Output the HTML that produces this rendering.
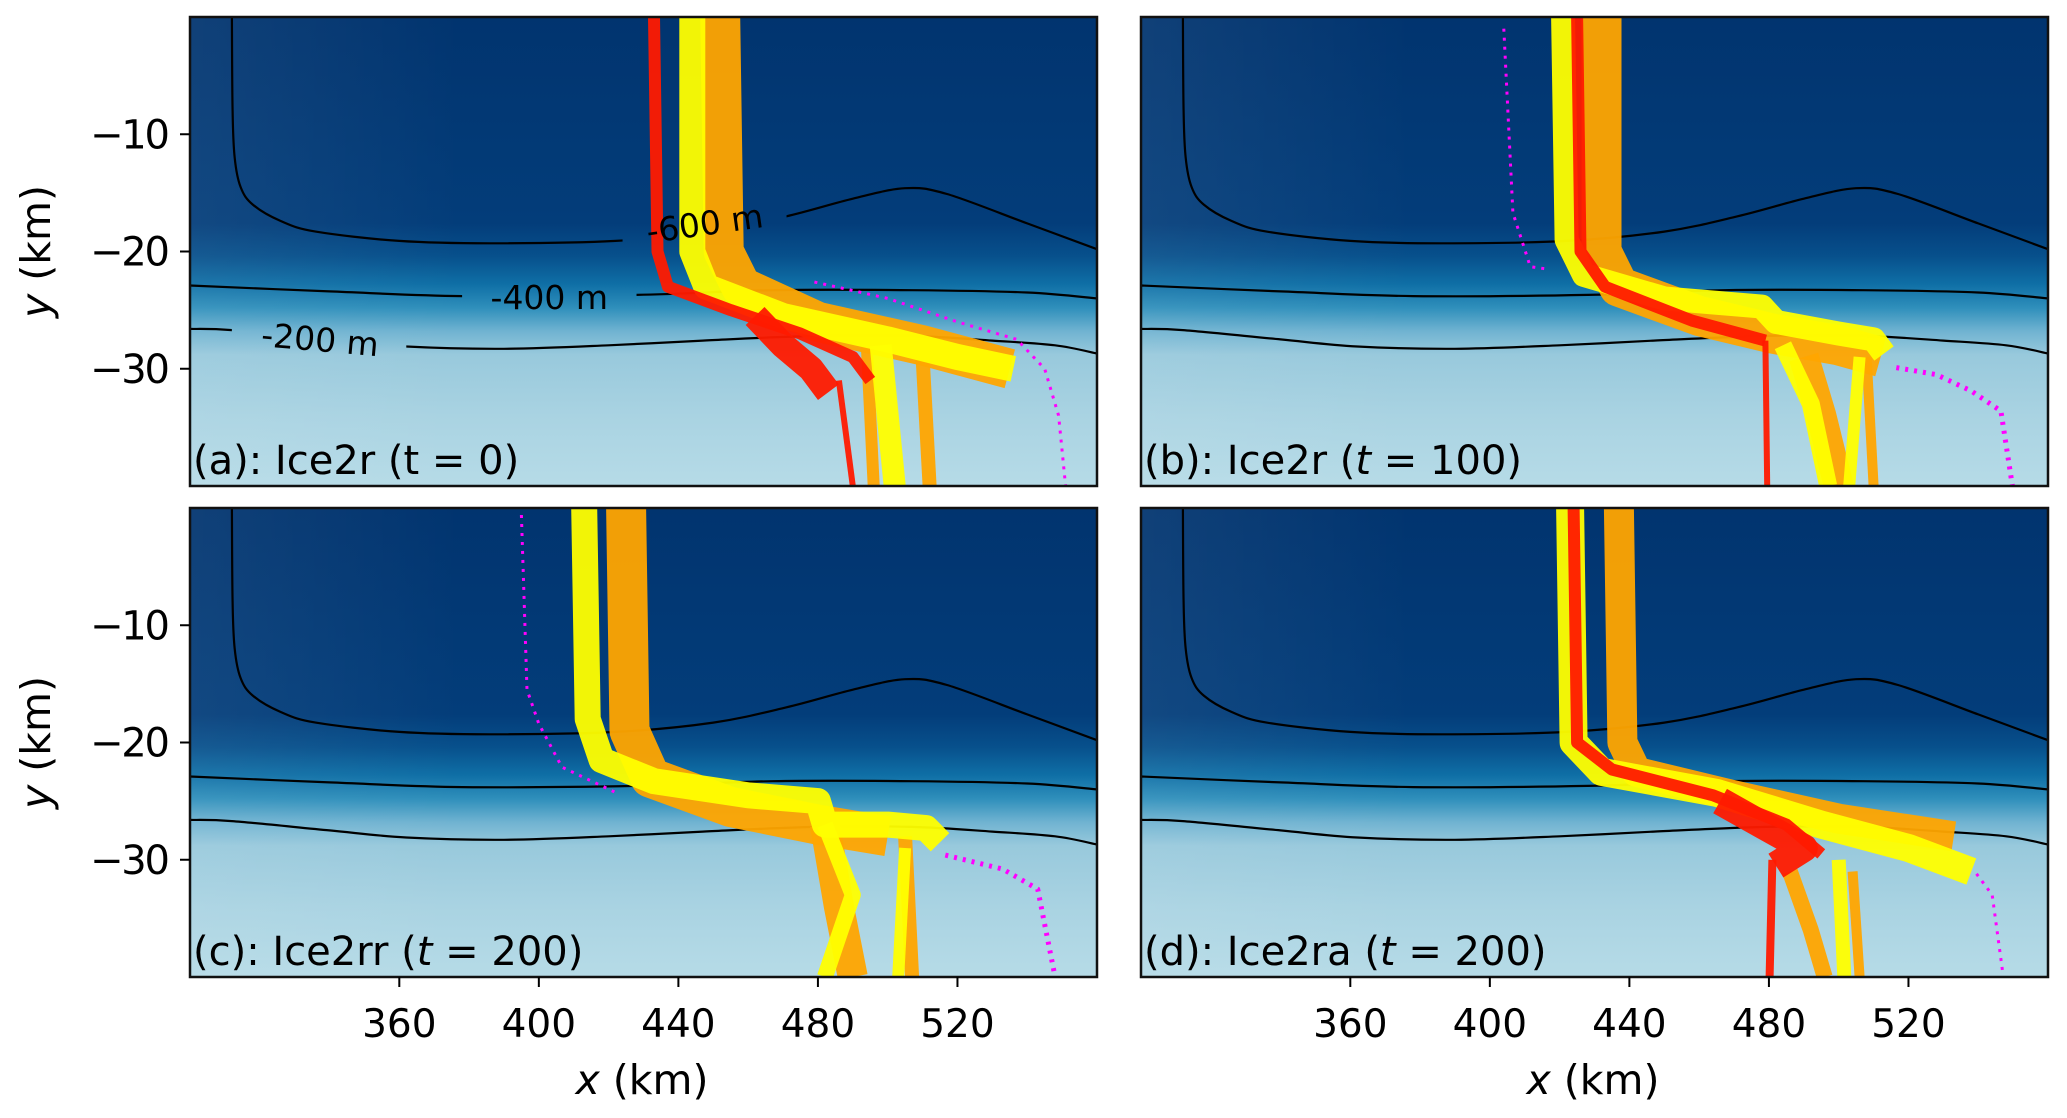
<!DOCTYPE html>
<html><head><meta charset="utf-8"><style>
html,body{margin:0;padding:0;background:#fff;}
svg{display:block;font-family:"DejaVu Sans","Liberation Sans",sans-serif;}
</style></head><body>
<svg id="fig" width="2067" height="1118" viewBox="0 0 2067 1118" xmlns="http://www.w3.org/2000/svg">
<defs>
<linearGradient id="bg" x1="0" y1="0" x2="0" y2="1">
<stop offset="0" stop-color="#01346f"/>
<stop offset="0.44" stop-color="#033d7a"/>
<stop offset="0.51" stop-color="#07508c"/>
<stop offset="0.57" stop-color="#0f6fa6"/>
<stop offset="0.62" stop-color="#2f8fbb"/>
<stop offset="0.67" stop-color="#70b3d1"/>
<stop offset="0.72" stop-color="#98c9dc"/>
<stop offset="0.85" stop-color="#a9d3e2"/>
<stop offset="1" stop-color="#b6dbe7"/>
</linearGradient>
<linearGradient id="bgh" x1="0" y1="0" x2="1" y2="0">
<stop offset="0" stop-color="#ffffff" stop-opacity="0.06"/>
<stop offset="0.3" stop-color="#ffffff" stop-opacity="0"/>
<stop offset="1" stop-color="#000000" stop-opacity="0"/>
</linearGradient>
</defs>
</svg>
<script>
// axis data
const xDomain = [300, 560];
const yDomain = [-40, 0];
const xTicks = [360, 400, 440, 480, 520];
const yTicks = [-10, -20, -30];
const panelLetters = ["(a): Ice2r (", "(b): Ice2r (", "(c): Ice2rr (", "(d): Ice2ra ("];
const panelTimes = ["0", "100", "200", "200"];
// bathymetry contours (km)
const contour600 = [[312,0],[312.2,-8],[312.8,-12],[314.5,-14.5],[318,-16],[326,-17.4],[336,-18.3],[360,-19.1],[386,-19.3],[422,-19.1],[450,-18.3],[471,-17],[490,-15.5],[505,-14.6],[517,-15.1],[540,-17.6],[560,-19.8]];
const contour400 = [[300,-22.9],[340,-23.4],[378,-23.8],[428,-23.7],[467,-23.3],[507,-23.3],[540,-23.5],[560,-24]];
const contour200 = [[300,-26.6],[312,-26.7],[340,-27.5],[362,-28.1],[390,-28.3],[420,-28],[447,-27.6],[479,-27.2],[507,-27.2],[530,-27.6],[548,-28],[560,-28.7]];
// trajectory bundles per panel
const tracksA_orange = [[452,0],[453,-20],[458,-23],[480,-26],[510,-28],[535,-30]];
const tracksA_orangeV1 = [[510,-29],[512,-40]];
const tracksA_orangeV2 = [[494,-28],[496,-40]];
const tracksA_yellow = [[444,0],[444,-20],[448,-23],[470,-25.5],[500,-27.5],[520,-29],[536,-30]];
const tracksA_yellowV = [[498,-28],[502,-40]];
const tracksA_red = [[433,0],[434,-20],[437,-23],[455,-25],[475,-27],[490,-29],[495,-31]];
const tracksA_redCloud = [[462,-25.5],[470,-28],[478,-30],[483,-32]];
const tracksA_redV = [[486,-31],[490,-40]];
const tracksA_magenta = [[479,-22.6],[500,-24],[520,-26],[537,-27.5],[545,-30],[549,-34],[551,-40]];

const tracksB_orange = [[432,0],[432,-20],[437,-23],[460,-25.5],[481,-27],[500,-28],[512,-29]];
const tracksB_orangeV = [[490,-29],[495,-34],[500,-40]];
const tracksB_orangeV2 = [[508,-29],[510,-40]];
const tracksB_yellow = [[421,0],[422,-19],[427,-22],[450,-24],[478,-24.7],[482,-26],[500,-27],[510,-27.5],[513,-28.7]];
const tracksB_yellowV = [[484,-28],[492,-33],[497,-40]];
const tracksB_yellowV2 = [[506,-29],[503,-40]];
const tracksB_red = [[425,0],[426,-20],[433,-23],[458,-25.9],[479,-27.6]];
const tracksB_redV = [[479,-27.6],[479.5,-40]];
const tracksB_magenta = [[404,-1],[406.6,-16.7],[411.6,-21.3],[416.6,-21.5]];
const tracksB_magenta2 = [[516.5,-29.9],[528,-30.5],[538,-31.9],[546.5,-33.6],[549.8,-40]];

const tracksC_orange = [[425,0],[426,-19],[432,-23],[455,-25.5],[480,-27],[500,-28]];
const tracksC_orangeV = [[482,-27],[486,-34],[490,-40]];
const tracksC_orangeV2 = [[505,-28],[507,-40]];
const tracksC_yellow = [[413,0],[414,-18],[418,-21.5],[433,-23.3],[460,-24.5],[480,-25],[482,-27],[500,-27],[511,-27.3],[515,-28.5]];
const tracksC_yellowV = [[482,-27],[490,-33],[482,-40]];
const tracksC_yellowV2 = [[505,-29],[503,-40]];
const tracksC_magenta = [[395,-0.6],[396.6,-15.5],[400,-18.4],[406.6,-22.1],[423,-24.4]];
const tracksC_magenta2 = [[516.5,-29.6],[533,-30.8],[543,-32.5],[548,-40]];

const tracksD_orange = [[437,0],[438,-20],[442,-22.5],[470,-24.5],[500,-26.5],[533,-28]];
const tracksD_orangeV = [[486,-31],[492,-36],[496,-40]];
const tracksD_orangeV2 = [[504,-31],[506,-40]];
const tracksD_yellow = [[423,0],[424,-20],[432,-22.5],[465,-24.3],[495,-27],[520,-29],[538,-31]];
const tracksD_yellowV = [[500,-30],[501.6,-40]];
const tracksD_red = [[424,0],[425,-20],[435,-22.3],[464,-24.5],[485,-27],[495,-29.5]];
const tracksD_redCloud = [[466,-25],[478,-27],[490,-29],[482,-30.5]];
const tracksD_redV = [[481,-30],[480.2,-40]];
const tracksD_magenta = [[539.5,-31.2],[544,-33],[547,-39.6]];

const panelTracks = [
 [["#ffa500",40,tracksA_orange],["#ffa500",14,tracksA_orangeV1],["#ffa500",12,tracksA_orangeV2],["#ffff00",26,tracksA_yellow],["#ffff00",22,tracksA_yellowV],["#ff1a00",12,tracksA_red],["#ff1a00",26,tracksA_redCloud],["#ff1a00",6,tracksA_redV],["magenta",3,tracksA_magenta,1]],
 [["#ffa500",40,tracksB_orange],["#ffa500",30,tracksB_orangeV],["#ffa500",10,tracksB_orangeV2],["#ffff00",24,tracksB_yellow],["#ffff00",18,tracksB_yellowV],["#ffff00",12,tracksB_yellowV2],["#ff1a00",12,tracksB_red],["#ff1a00",6,tracksB_redV],["magenta",3,tracksB_magenta,1],["magenta",5,tracksB_magenta2,1]],
 [["#ffa500",40,tracksC_orange],["#ffa500",30,tracksC_orangeV],["#ffa500",14,tracksC_orangeV2],["#ffff00",26,tracksC_yellow],["#ffff00",16,tracksC_yellowV],["#ffff00",12,tracksC_yellowV2],["magenta",3,tracksC_magenta,1],["magenta",5,tracksC_magenta2,1]],
 [["#ffa500",30,tracksD_orange],["#ffa500",16,tracksD_orangeV],["#ffa500",10,tracksD_orangeV2],["#ffff00",28,tracksD_yellow],["#ffff00",14,tracksD_yellowV],["#ff1a00",12,tracksD_red],["#ff1a00",28,tracksD_redCloud],["#ff1a00",8,tracksD_redV],["magenta",3,tracksD_magenta,1]]
];

const NS = "http://www.w3.org/2000/svg";
const svg = document.getElementById("fig");
const panels = [[190,17],[1141,17],[190,508],[1141,508]];
const PW = 907, PH = 469;
function mk(tag, attrs, parent){const e=document.createElementNS(NS,tag);for(const k in attrs)e.setAttribute(k,attrs[k]);(parent||svg).appendChild(e);return e;}
function sx(p,v){return panels[p][0]+(v-xDomain[0])/(xDomain[1]-xDomain[0])*PW;}
function sy(p,v){return panels[p][1]+(yDomain[1]-v)/(yDomain[1]-yDomain[0])*PH;}
function pts(p,arr){return arr.map(d=>sx(p,d[0]).toFixed(1)+","+sy(p,d[1]).toFixed(1)).join(" ");}
function smooth(p,arr){
  const P = arr.map(d=>[sx(p,d[0]),sy(p,d[1])]);
  let s = "M"+P[0][0].toFixed(1)+","+P[0][1].toFixed(1);
  for(let i=0;i<P.length-1;i++){
    const p0=P[Math.max(i-1,0)],p1=P[i],p2=P[i+1],p3=P[Math.min(i+2,P.length-1)];
    const c1=[p1[0]+(p2[0]-p0[0])/6,p1[1]+(p2[1]-p0[1])/6];
    const c2=[p2[0]-(p3[0]-p1[0])/6,p2[1]-(p3[1]-p1[1])/6];
    s+=" C"+c1.map(v=>v.toFixed(1)).join(",")+" "+c2.map(v=>v.toFixed(1)).join(",")+" "+p2[0].toFixed(1)+","+p2[1].toFixed(1);
  }
  return s;
}

panels.forEach((pp,i)=>{
  const g = mk("g",{});
  
  
  const cid = "clip"+i;
  const cp = mk("clipPath",{id:cid},svg.querySelector("defs"));
  mk("rect",{x:pp[0],y:pp[1],width:PW,height:PH},cp);
  const bg = mk("rect",{x:pp[0],y:pp[1],width:PW,height:PH,fill:"url(#bg)"},g);
  
  
  mk("rect",{x:pp[0],y:pp[1],width:PW,height:PH,fill:"url(#bgh)"},g);
  const inner = mk("g",{"clip-path":"url(#"+cid+")"},g);
  // label gaps in panel a
  let maskAttr = {};
  if(i===0){
    const m = mk("mask",{id:"lblmask"},svg.querySelector("defs"));
    mk("rect",{x:0,y:0,width:2067,height:1118,fill:"#fff"},m);
    mk("rect",{x:sx(0,424),y:sy(0,-15.5),width:sx(0,471)-sx(0,424),height:sy(0,-21)-sy(0,-15.5),fill:"#000"},m);
    mk("rect",{x:sx(0,378),y:sy(0,-22),width:sx(0,428)-sx(0,378),height:sy(0,-25.5)-sy(0,-22),fill:"#000"},m);
    mk("rect",{x:sx(0,312),y:sy(0,-25.5),width:sx(0,362)-sx(0,312),height:sy(0,-30)-sy(0,-25.5),fill:"#000"},m);
    maskAttr = {mask:"url(#lblmask)"};
  }
  const cg = mk("g",maskAttr,inner);
  [contour600,contour400,contour200].forEach((c,ci)=>{
    const l = mk("path",{d:smooth(i,c),fill:"none",stroke:"#000","stroke-width":2.2},cg);
    
    
  });
  panelTracks[i].forEach(t=>{
    const l = mk("polyline",{points:pts(i,t[2]),fill:"none",stroke:t[0],"stroke-width":t[1],"stroke-linejoin":"round","stroke-linecap":"butt",opacity:t[3]?1:0.95},inner);
    if(t[3]) l.setAttribute("stroke-dasharray","3 6");
    
    
  });
  if(i===0){
    const labs=[["-600 m",448,-18.6,-8],["-400 m",403,-24.9,0],["-200 m",337,-28.5,5]];
    labs.forEach(L=>{
      const t = mk("text",{x:sx(0,L[1]),y:sy(0,L[2]),"font-size":33,"text-anchor":"middle",transform:"rotate("+L[3]+" "+sx(0,L[1])+" "+sy(0,L[2])+")"},inner);
      t.textContent=L[0];
      
      
    });
  }
  const fr = mk("rect",{x:pp[0],y:pp[1],width:PW,height:PH,fill:"none",stroke:"#111","stroke-width":2.5},g);
  
  
  const tt = mk("text",{x:pp[0]+3,y:pp[1]+PH-12,"font-size":40,fill:"#000"},g);
  tt.innerHTML = panelLetters[i] + (i===0?'t':'<tspan font-style="italic">t</tspan>') + ' = ' + panelTimes[i] + ')';
  
  
  if(i%2===0){
    yTicks.forEach(v=>{
      mk("line",{x1:pp[0]-10,x2:pp[0],y1:sy(i,v),y2:sy(i,v),stroke:"#000","stroke-width":2},g);
      const t = mk("text",{x:pp[0]-20,y:sy(i,v)+14,"font-size":40,"text-anchor":"end",textLength:80,lengthAdjust:"spacing"},g);
      t.textContent = "\u2212"+Math.abs(v);
      
      
    });
    const cy = pp[1]+PH/2;
    const yl = mk("text",{x:50,y:cy,"font-size":41,"text-anchor":"middle",transform:"rotate(-90 50 "+cy+")"},g);
    yl.innerHTML = '<tspan font-style="italic">y</tspan> (km)';
    
    
  }
  if(i>=2){
    xTicks.forEach(v=>{
      mk("line",{x1:sx(i,v),x2:sx(i,v),y1:pp[1]+PH,y2:pp[1]+PH+10,stroke:"#000","stroke-width":2},g);
      const t = mk("text",{x:sx(i,v),y:1037,"font-size":39,"text-anchor":"middle"},g);
      t.textContent = v;
      
      
    });
    const cx = pp[0]+452;
    const xl = mk("text",{x:cx,y:1094,"font-size":41,"text-anchor":"middle"},g);
    xl.innerHTML = '<tspan font-style="italic">x</tspan> (km)';
    
    
  }
});
</script>
</body></html>
